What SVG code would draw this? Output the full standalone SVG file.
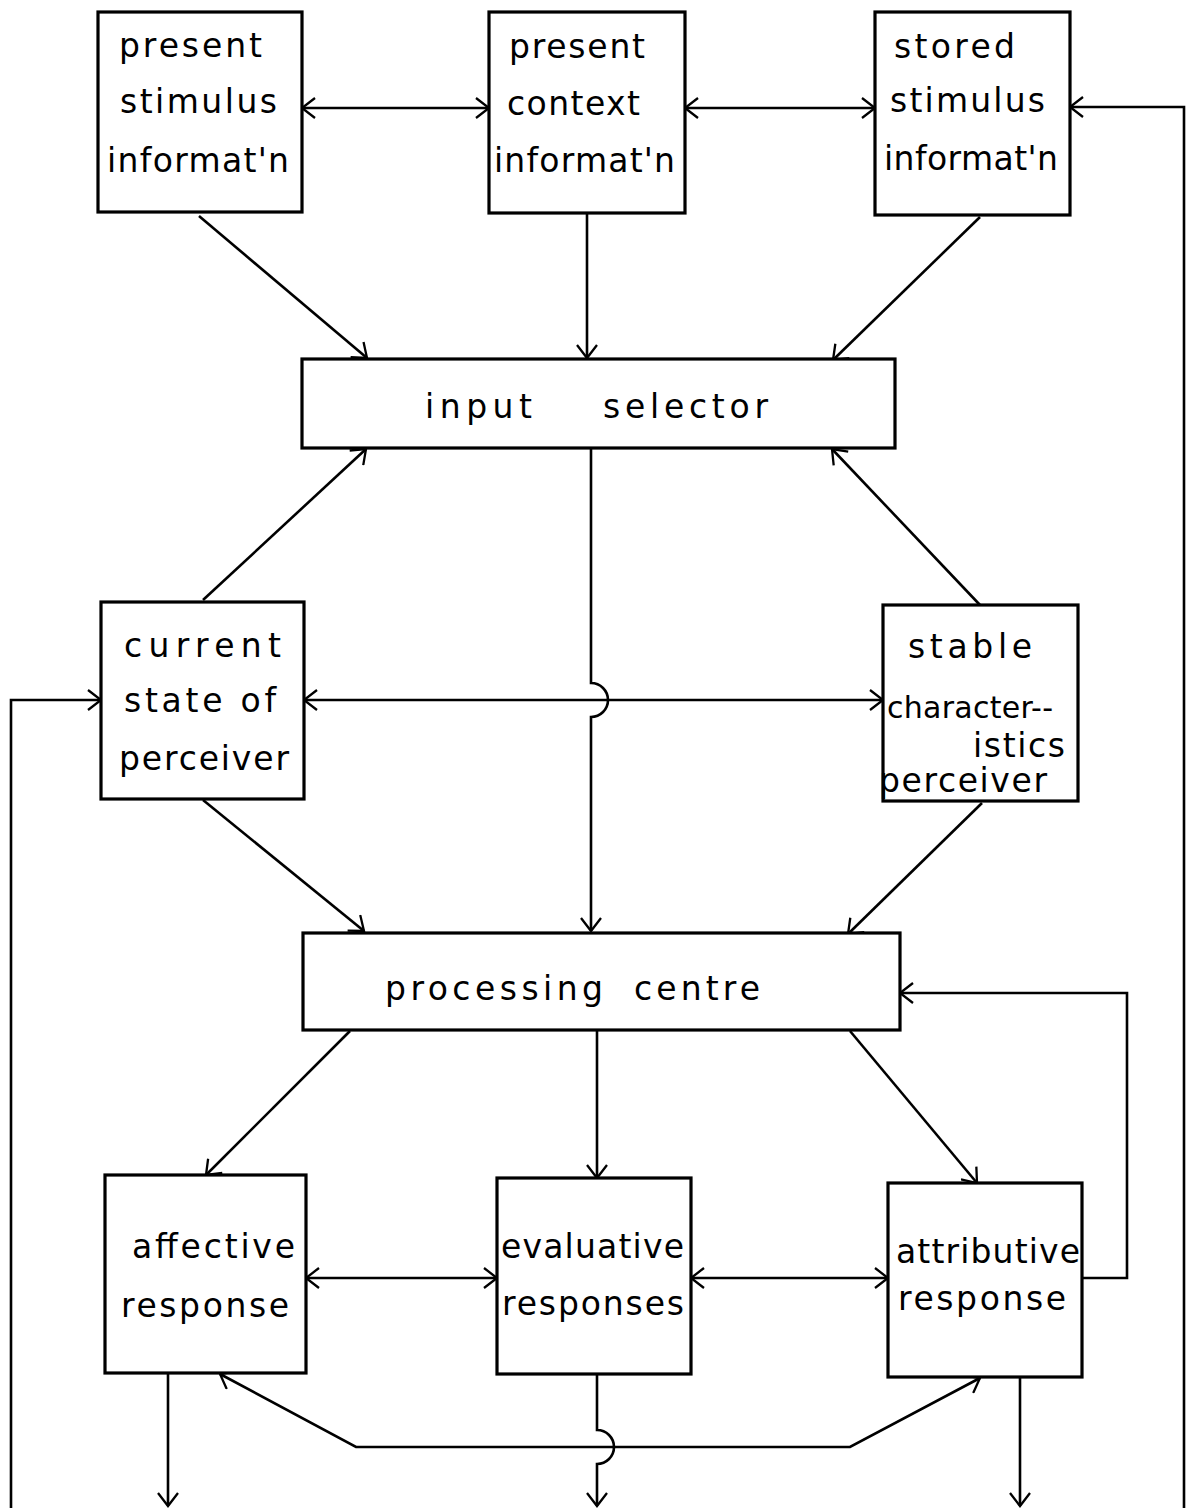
<svg xmlns="http://www.w3.org/2000/svg" width="1189" height="1508" viewBox="0 0 1189 1508">
<defs>
<style>
.box{fill:#fff;stroke:#000;stroke-width:3.2}
.ln{fill:none;stroke:#000;stroke-width:2.6}
.t{font-family:"DejaVu Sans","Liberation Sans",sans-serif;font-size:33px;fill:#000}
.t.sm{font-size:30px}
</style>
<marker id="ah" viewBox="0 0 22 22" refX="18" refY="11" markerWidth="22" markerHeight="22" markerUnits="userSpaceOnUse" orient="auto-start-reverse">
<path d="M5,1 L18,11 L5,21" fill="none" stroke="#000" stroke-width="2.3"/>
</marker>
</defs>
<rect width="1189" height="1508" fill="#fff"/>

<g id="connectors">
<line class="ln" x1="302" y1="108" x2="489" y2="108" marker-start="url(#ah)" marker-end="url(#ah)"/>
<line class="ln" x1="685" y1="108" x2="875" y2="108" marker-start="url(#ah)" marker-end="url(#ah)"/>
<line class="ln" x1="199" y1="216" x2="367" y2="358" marker-end="url(#ah)"/>
<line class="ln" x1="587" y1="213" x2="587" y2="358" marker-end="url(#ah)"/>
<line class="ln" x1="980" y1="217" x2="833" y2="360" marker-end="url(#ah)"/>
<path class="ln" d="M1184,1508 V107 H1070" marker-end="url(#ah)"/>
<path class="ln" d="M11,1508 V700 H101" marker-end="url(#ah)"/>
<path class="ln" d="M1083,1278 H1127 V993 H900" marker-end="url(#ah)"/>
<path class="ln" d="M591,448 V683 A17,17 0 0 1 591,717 V931" marker-end="url(#ah)"/>
<line class="ln" x1="304" y1="700" x2="883" y2="700" marker-start="url(#ah)" marker-end="url(#ah)"/>
<line class="ln" x1="203" y1="600" x2="366" y2="449" marker-end="url(#ah)"/>
<line class="ln" x1="980" y1="605" x2="832" y2="449" marker-end="url(#ah)"/>
<line class="ln" x1="203" y1="800" x2="364" y2="931" marker-end="url(#ah)"/>
<line class="ln" x1="982" y1="803" x2="848" y2="934" marker-end="url(#ah)"/>
<line class="ln" x1="350" y1="1031" x2="206" y2="1175" marker-end="url(#ah)"/>
<line class="ln" x1="597" y1="1031" x2="597" y2="1178" marker-end="url(#ah)"/>
<line class="ln" x1="850" y1="1031" x2="977" y2="1183" marker-end="url(#ah)"/>
<line class="ln" x1="306" y1="1278" x2="497" y2="1278" marker-start="url(#ah)" marker-end="url(#ah)"/>
<line class="ln" x1="691" y1="1278" x2="888" y2="1278" marker-start="url(#ah)" marker-end="url(#ah)"/>
<path class="ln" d="M220,1374 L356,1447 H850 L980,1378" marker-start="url(#ah)" marker-end="url(#ah)"/>
<line class="ln" x1="168" y1="1373" x2="168" y2="1506" marker-end="url(#ah)"/>
<path class="ln" d="M597,1374 V1430 A17,17 0 0 1 597,1464 V1506" marker-end="url(#ah)"/>
<line class="ln" x1="1020" y1="1377" x2="1020" y2="1506" marker-end="url(#ah)"/>
</g>

<g id="present-stimulus">
<rect class="box" x="98" y="12" width="204" height="200"/>
<text class="t" x="119" y="57" textLength="143" lengthAdjust="spacing">present</text>
<text class="t" x="120" y="113" textLength="157" lengthAdjust="spacing">stimulus</text>
<text class="t" x="107" y="172" textLength="182" lengthAdjust="spacing">informat'n</text>
</g>

<g id="present-context">
<rect class="box" x="489" y="12" width="196" height="201"/>
<text class="t" x="509" y="58" textLength="136" lengthAdjust="spacing">present</text>
<text class="t" x="507" y="115" textLength="133" lengthAdjust="spacing">context</text>
<text class="t" x="494" y="172" textLength="181" lengthAdjust="spacing">informat'n</text>
</g>

<g id="stored-stimulus">
<rect class="box" x="875" y="12" width="195" height="203"/>
<text class="t" x="894" y="58" textLength="121" lengthAdjust="spacing">stored</text>
<text class="t" x="890" y="112" textLength="155" lengthAdjust="spacing">stimulus</text>
<text class="t" x="884" y="170" textLength="174" lengthAdjust="spacing">informat'n</text>
</g>

<g id="input-selector">
<rect class="box" x="302" y="359" width="593" height="89"/>
<text class="t" x="425" y="418" textLength="107" lengthAdjust="spacing">input</text>
<text class="t" x="603" y="418" textLength="165" lengthAdjust="spacing">selector</text>
</g>

<g id="current-state">
<rect class="box" x="101" y="602" width="203" height="197"/>
<text class="t" x="124" y="657" textLength="157" lengthAdjust="spacing">current</text>
<text class="t" x="124" y="712" textLength="152" lengthAdjust="spacing">state of</text>
<text class="t" x="119" y="770" textLength="170" lengthAdjust="spacing">perceiver</text>
</g>

<g id="stable-characteristics">
<rect class="box" x="883" y="605" width="195" height="196"/>
<text class="t" x="908" y="658" textLength="124" lengthAdjust="spacing">stable</text>
<text class="t sm" x="887" y="718" textLength="166" lengthAdjust="spacing">character--</text>
<text class="t" x="973" y="757" textLength="92" lengthAdjust="spacing">istics</text>
<text class="t" x="879" y="792" textLength="168" lengthAdjust="spacing">perceiver</text>
</g>

<g id="processing-centre">
<rect class="box" x="303" y="933" width="597" height="97"/>
<text class="t" x="385" y="1000" textLength="218" lengthAdjust="spacing">processing</text>
<text class="t" x="634" y="1000" textLength="126" lengthAdjust="spacing">centre</text>
</g>

<g id="affective-response">
<rect class="box" x="105" y="1175" width="201" height="198"/>
<text class="t" x="132" y="1258" textLength="163" lengthAdjust="spacing">affective</text>
<text class="t" x="121" y="1317" textLength="168" lengthAdjust="spacing">response</text>
</g>

<g id="evaluative-responses">
<rect class="box" x="497" y="1178" width="194" height="196"/>
<text class="t" x="501" y="1258" textLength="183" lengthAdjust="spacing">evaluative</text>
<text class="t" x="502" y="1315" textLength="182" lengthAdjust="spacing">responses</text>
</g>

<g id="attributive-response">
<rect class="box" x="888" y="1183" width="194" height="194"/>
<text class="t" x="896" y="1263" textLength="184" lengthAdjust="spacing">attributive</text>
<text class="t" x="898" y="1310" textLength="168" lengthAdjust="spacing">response</text>
</g>
</svg>
